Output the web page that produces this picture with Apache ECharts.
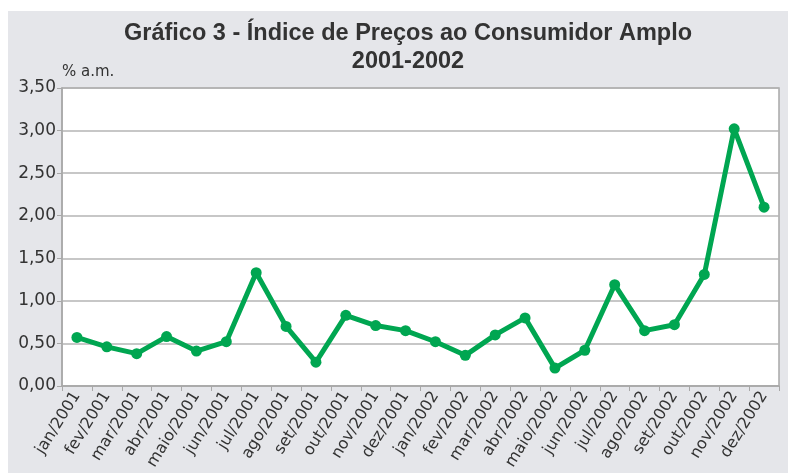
<!DOCTYPE html>
<html>
<head>
<meta charset="utf-8">
<script src="https://cdn.jsdelivr.net/npm/echarts@6/dist/echarts.min.js"></script>
<style>
  html, body { margin: 0; padding: 0; background: #ffffff; }
  #main { width: 788px; height: 473px; }
</style>
</head>
<body>
<div id="main"></div>
<script>
// IPCA mensal (% a.m.)
const meses = [
  'jan/2001', 'fev/2001', 'mar/2001', 'abr/2001', 'maio/2001', 'jun/2001',
  'jul/2001', 'ago/2001', 'set/2001', 'out/2001', 'nov/2001', 'dez/2001',
  'jan/2002', 'fev/2002', 'mar/2002', 'abr/2002', 'maio/2002', 'jun/2002',
  'jul/2002', 'ago/2002', 'set/2002', 'out/2002', 'nov/2002', 'dez/2002'
];
const ipca = [
  0.57, 0.46, 0.38, 0.58, 0.41, 0.52, 1.33, 0.70, 0.28, 0.83, 0.71, 0.65,
  0.52, 0.36, 0.60, 0.80, 0.21, 0.42, 1.19, 0.65, 0.72, 1.31, 3.02, 2.10
];

const chart = echarts.init(document.getElementById('main'));
const option = {
    animation: false,
    graphic: [{
        type: 'rect',
        z: -10,
        silent: true,
        shape: { x: 8, y: 11, width: 780, height: 462 },
        style: { fill: '#e5e6ea' }
    }],
    title: {
        text: 'Gráfico 3 - Índice de Preços ao Consumidor Amplo\n2001-2002',
        left: 403,
        top: 15,
        textAlign: 'center',
        textStyle: {
            fontFamily: 'Liberation Sans',
            fontSize: 23.5,
            fontWeight: 'bold',
            color: '#333333',
            lineHeight: 28
        }
    },
    grid: {
        left: 62,
        top: 88,
        right: 9,
        bottom: 87,
        show: true,
        backgroundColor: '#ffffff',
        borderColor: '#a8a8a8',
        borderWidth: 1.5,
        containLabel: false,
        outerBoundsMode: 'none'
    },
    xAxis: {
        type: 'category',
        data: meses,
        boundaryGap: true,
        axisLine: { lineStyle: { color: '#a8a8a8', width: 1.5 } },
        axisTick: { show: true, length: 5, lineStyle: { color: '#a8a8a8' } },
        axisLabel: {
            interval: 0,
            rotate: 58,
            margin: 7,
            fontFamily: 'DejaVu Sans',
            fontSize: 16,
            color: '#333333'
        }
    },
    yAxis: {
        type: 'value',
        min: 0,
        max: 3.5,
        interval: 0.5,
        name: '% a.m.',
        nameLocation: 'end',
        nameGap: 8,
        nameTextStyle: {
            align: 'left',
            fontFamily: 'DejaVu Sans',
            fontSize: 15,
            color: '#333333'
        },
        axisLine: { show: true, lineStyle: { color: '#a8a8a8', width: 1.5 } },
        axisTick: { show: true, length: 5, lineStyle: { color: '#a8a8a8' } },
        axisLabel: {
            margin: 6,
            fontFamily: 'DejaVu Sans',
            fontSize: 17,
            color: '#333333',
            formatter: v => v.toFixed(2).replace('.', ',')
        },
        splitLine: { lineStyle: { color: '#b4b4b4', width: 1.5 } }
    },
    series: [{
        type: 'line',
        data: ipca,
        symbol: 'circle',
        symbolSize: 11,
        lineStyle: { color: '#00a651', width: 5 },
        itemStyle: { color: '#00a651' }
    }]
};

chart.setOption(option);
</script>
</body>
</html>
